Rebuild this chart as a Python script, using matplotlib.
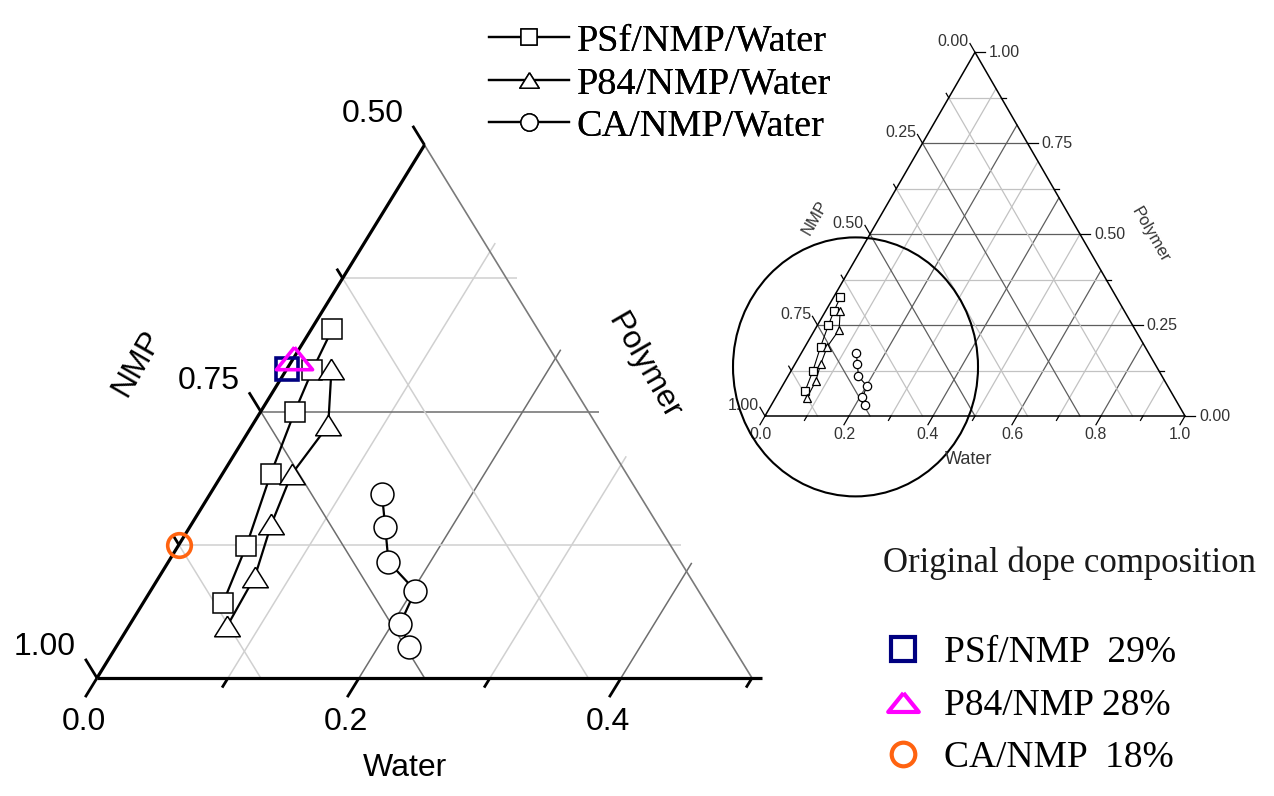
import numpy as np
import matplotlib
matplotlib.use('Agg')
import matplotlib.pyplot as plt
from matplotlib.lines import Line2D
from matplotlib.patches import Ellipse

# ---------------- data (mass fractions; NMP = 1 - water - polymer) ----------------
series_labels = ['PSf/NMP/Water', 'P84/NMP/Water', 'CA/NMP/Water']
psf_water = [0.016, 0.020, 0.026, 0.037, 0.052, 0.061]
psf_polymer = [0.327, 0.289, 0.250, 0.191, 0.124, 0.070]
p84_water = [0.034, 0.058, 0.053, 0.061, 0.073, 0.075]
p84_polymer = [0.290, 0.237, 0.191, 0.144, 0.095, 0.049]
ca_water = [0.131, 0.149, 0.168, 0.202, 0.206, 0.224]
ca_polymer = [0.173, 0.142, 0.109, 0.082, 0.051, 0.029]

dope_labels = ['PSf/NMP  29%', 'P84/NMP 28%', 'CA/NMP  18%']
dope_water = [0.0, 0.0, 0.0]
dope_polymer = [0.290, 0.300, 0.125]
dope_colors = ['#000080', '#ff00ff', '#ff6310']

# main (zoomed) axis ticks
main_water_ticks = [0.0, 0.1, 0.2, 0.3, 0.4, 0.5]
main_water_labels = {0.0: '0.0', 0.2: '0.2', 0.4: '0.4'}
main_nmp_ticks = [1.0, 0.875, 0.75, 0.625, 0.5]
main_nmp_labels = {1.0: '1.00', 0.75: '0.75', 0.5: '0.50'}
# full-triangle inset ticks
inset_water_ticks = [round(0.1 * k, 1) for k in range(11)]
inset_water_labels = ['0.0', '0.2', '0.4', '0.6', '0.8', '1.0']
inset_frac_ticks = [0.125 * k for k in range(9)]
inset_frac_labels = ['0.00', '0.25', '0.50', '0.75', '1.00']

SQ3 = np.sqrt(3) / 2


def tern(w, p):
    w = np.asarray(w, float)
    p = np.asarray(p, float)
    return w + p / 2, p * SQ3


W_PX, H_PX = 1274, 796
fig = plt.figure(figsize=(W_PX / 100, H_PX / 100), dpi=100)
fig.patch.set_facecolor('white')

SANS = ['Liberation Sans', 'DejaVu Sans']
SERIF = ['Liberation Serif', 'DejaVu Serif']

DARK = '#6e6e6e'
LIGHT = '#d0d0d0'

# ======================= main zoomed ternary =======================
SX = 1310.0              # px per unit x
SY = 1066.0 / SQ3        # px per unit y
X0, Y0 = 97.0, 678.0     # pixel of the water=0 / NMP=1 corner
AXW = 800
ax = fig.add_axes([0, 0, AXW / W_PX, 1])
ax.set_xlim(-X0 / SX, (AXW - X0) / SX)
ax.set_ylim(-(H_PX - Y0) / SY, Y0 / SY)
ax.axis('off')

EXT = 0.008
for w in [0.1, 0.2, 0.3, 0.4]:
    major = int(round(w * 10)) % 2 == 0
    x, y = tern([w, w], [0, 0.5 - w + EXT])
    ax.plot(x, y, color=DARK if major else LIGHT, lw=1.1, zorder=1, solid_capstyle='butt')
for p in [0.125, 0.25, 0.375]:
    major = abs(p - 0.25) < 1e-9
    x, y = tern([0, 0.5 - p + EXT], [p, p])
    ax.plot(x, y, color=DARK if major else LIGHT, lw=1.1, zorder=1, solid_capstyle='butt')
for n in [0.875, 0.75, 0.625]:
    major = abs(n - 0.75) < 1e-9
    x, y = tern([0, 1 - n], [1 - n, 0])
    ax.plot(x, y, color=DARK if major else LIGHT, lw=1.1, zorder=1, solid_capstyle='butt')
x, y = tern([0, 0.5], [0.5, 0])
ax.plot(x, y, color='#7a7a7a', lw=1.2, zorder=1)

# axes lines
x, y = tern([0, 0], [0, 0.5])
ax.plot(x, y, color='black', lw=2.3, zorder=3, solid_capstyle='butt')
x, y = tern([0, 0.508], [0, 0])
ax.plot(x, y, color='black', lw=2.3, zorder=3, solid_capstyle='butt')

# ticks
for nv in main_nmp_ticks:
    p = 1 - nv
    t = 0.018 if nv in main_nmp_labels else 0.009
    x, y = tern([0, -t], [p, p + t])
    ax.plot(x, y, color='black', lw=2.0, zorder=3, solid_capstyle='butt')
    if nv in main_nmp_labels:
        ax.annotate(main_nmp_labels[nv], xy=tern(0, p), xytext=(-52, 31),
                    textcoords='offset pixels', ha='center', va='center',
                    fontsize=23, family=SANS)
for wv in main_water_ticks:
    t = 0.018 if wv in main_water_labels else 0.009
    x, y = tern([wv, wv], [0, -t])
    ax.plot(x, y, color='black', lw=2.0, zorder=3, solid_capstyle='butt')
    if wv in main_water_labels:
        ax.annotate(main_water_labels[wv], xy=tern(wv, 0), xytext=(-13, -44),
                    textcoords='offset pixels', ha='center', va='center',
                    fontsize=23, family=SANS)

fig.text(137 / W_PX, 1 - 363 / H_PX, 'NMP', rotation=60, ha='center', va='center',
         fontsize=23, family=SANS)
fig.text(644 / W_PX, 1 - 366 / H_PX, 'Polymer', rotation=-60, ha='center', va='center',
         fontsize=23, family=SANS)
fig.text(405 / W_PX, 1 - 768 / H_PX, 'Water', ha='center', va='center',
         fontsize=23, family=SANS)

tri_verts = [(0, 0.8), (-1, -0.8), (1, -0.8), (0, 0.8)]
flat_tri = [(0, 0.62), (-1, -0.62), (1, -0.62), (0, 0.62)]

h_psf, = ax.plot(*tern(psf_water, psf_polymer), '-', color='black', lw=1.6,
                 marker='s', ms=14.5, mfc='white', mec='black', mew=1.1, zorder=5,
                 label=series_labels[0])
h_p84, = ax.plot(*tern(p84_water, p84_polymer), '-', color='black', lw=1.6,
                 marker=tri_verts, ms=18.5, mfc='white', mec='black', mew=1.1, zorder=5,
                 label=series_labels[1])
h_ca, = ax.plot(*tern(ca_water, ca_polymer), '-', color='black', lw=1.6,
                marker='o', ms=16.5, mfc='white', mec='black', mew=1.1, zorder=5,
                label=series_labels[2])

dope_markers = ['s', flat_tri, 'o']
dope_ms = [15.5, 26, 17]
dope_handles = []
for i in range(3):
    ax.plot(*tern([dope_water[i]], [dope_polymer[i]]), linestyle='none',
            marker=dope_markers[i], ms=dope_ms[i], mfc='none', mec=dope_colors[i],
            mew=2.6, zorder=6 + i)

leg1 = ax.legend(handles=[h_psf, h_p84, h_ca], loc='upper left',
                 bbox_to_anchor=(489 / W_PX, 1 - 24 / H_PX), bbox_transform=fig.transFigure,
                 frameon=False, prop={'family': SERIF, 'size': 27.5}, handlelength=2.1,
                 handletextpad=0.2, labelspacing=0.2, borderpad=0, borderaxespad=0,
                 markerscale=0.75)
ax.add_artist(leg1)

# ======================= inset full ternary =======================
IX0, IY0, IS = 765.0, 416.0, 420.0
IL, IT, IR, IB = 700, 0, 1274, 530
axi = fig.add_axes([IL / W_PX, 1 - IB / H_PX, (IR - IL) / W_PX, (IB - IT) / H_PX])
axi.set_xlim((IL - IX0) / IS, (IR - IX0) / IS)
axi.set_ylim(-(IB - IY0) / IS, (IY0 - IT) / IS)
axi.axis('off')
axi.patch.set_alpha(0)

IDARK = '#5e5e5e'
ILIGHT = '#c2c2c2'
for k in range(1, 10):
    w = k / 10
    x, y = tern([w, w], [0, 1 - w])
    axi.plot(x, y, color=IDARK if k % 2 == 0 else ILIGHT, lw=0.9, zorder=1)
for k in range(1, 8):
    f = k / 8
    col = IDARK if k % 2 == 0 else ILIGHT
    x, y = tern([0, 1 - f], [f, f])
    axi.plot(x, y, color=col, lw=0.9, zorder=1)
    x, y = tern([0, f], [f, 0])
    axi.plot(x, y, color=col, lw=0.9, zorder=1)
x, y = tern([0, 1, 0, 0], [0, 0, 1, 0])
axi.plot(x, y, color='black', lw=1.1, zorder=2)

ITXT = '#333333'
for i, f in enumerate(inset_frac_ticks):
    major = i % 2 == 0
    t = 0.024 if major else 0.012
    # NMP axis (left edge)
    x, y = tern([0, -t], [f, f + t])
    axi.plot(x, y, color='black', lw=0.9, zorder=2)
    # Polymer axis (right edge)
    x, y = tern([1 - f, 1 - f + t], [f, f])
    axi.plot(x, y, color='black', lw=0.9, zorder=2)
    if major:
        axi.annotate(inset_frac_labels[::-1][i // 2], xy=tern(0, f), xytext=(-22, 11),
                     textcoords='offset pixels', ha='center', va='center',
                     fontsize=11.5, family=SANS, color=ITXT)
        axi.annotate(inset_frac_labels[i // 2], xy=tern(1 - f, f), xytext=(14, 0),
                     textcoords='offset pixels', ha='left', va='center',
                     fontsize=11.5, family=SANS, color=ITXT)
for k, wv in enumerate(inset_water_ticks):
    major = k % 2 == 0
    t = 0.024 if major else 0.012
    x, y = tern([wv, wv], [0, -t])
    axi.plot(x, y, color='black', lw=0.9, zorder=2)
    if major:
        axi.annotate(inset_water_labels[k // 2], xy=tern(wv, 0), xytext=(-5, -18),
                     textcoords='offset pixels', ha='center', va='center',
                     fontsize=11.5, family=SANS, color=ITXT)

fig.text(815 / W_PX, 1 - 218 / H_PX, 'NMP', rotation=60, ha='center', va='center',
         fontsize=12, family=SANS, color=ITXT)
fig.text(1150 / W_PX, 1 - 235 / H_PX, 'Polymer', rotation=-60, ha='center', va='center',
         fontsize=12, family=SANS, color=ITXT)
fig.text(969 / W_PX, 1 - 459 / H_PX, 'Water', ha='center', va='center',
         fontsize=13, family=SANS, color=ITXT)

axi.plot(*tern(psf_water, psf_polymer), '-', color='black', lw=0.8,
         marker='s', ms=5.5, mfc='white', mec='black', mew=0.9, zorder=5)
axi.plot(*tern(p84_water, p84_polymer), '-', color='black', lw=0.8,
         marker='^', ms=6, mfc='white', mec='black', mew=0.9, zorder=5)
axi.plot(*tern(ca_water, ca_polymer), '-', color='black', lw=0.8,
         marker='o', ms=6, mfc='white', mec='black', mew=0.9, zorder=5)

circ_c = tern(0.148, 0.135)
axi.add_patch(Ellipse((float(circ_c[0]), float(circ_c[1])), 245 / IS, 259 / IS,
                      fill=False, ec='black', lw=1.5, zorder=6, clip_on=False))

# ======================= dope composition legend =======================
fig.text(883 / W_PX, 1 - 563 / H_PX, 'Original dope composition', ha='left', va='center',
         fontsize=25, family=SERIF, color='#1a1a1a')
for i in range(3):
    dope_handles.append(Line2D([], [], linestyle='none', marker=dope_markers[i],
                               ms=[17, 22, 17][i], mfc='none', mec=dope_colors[i], mew=3.0,
                               label=dope_labels[i]))
fig.legend(handles=dope_handles, loc='upper left',
           bbox_to_anchor=(880 / W_PX, 1 - 636 / H_PX), frameon=False,
           prop={'family': SERIF, 'size': 27}, handlelength=1.2, handletextpad=0.5,
           labelspacing=0.47, borderpad=0, borderaxespad=0)

fig.savefig('out.png', dpi=100, facecolor='white')
